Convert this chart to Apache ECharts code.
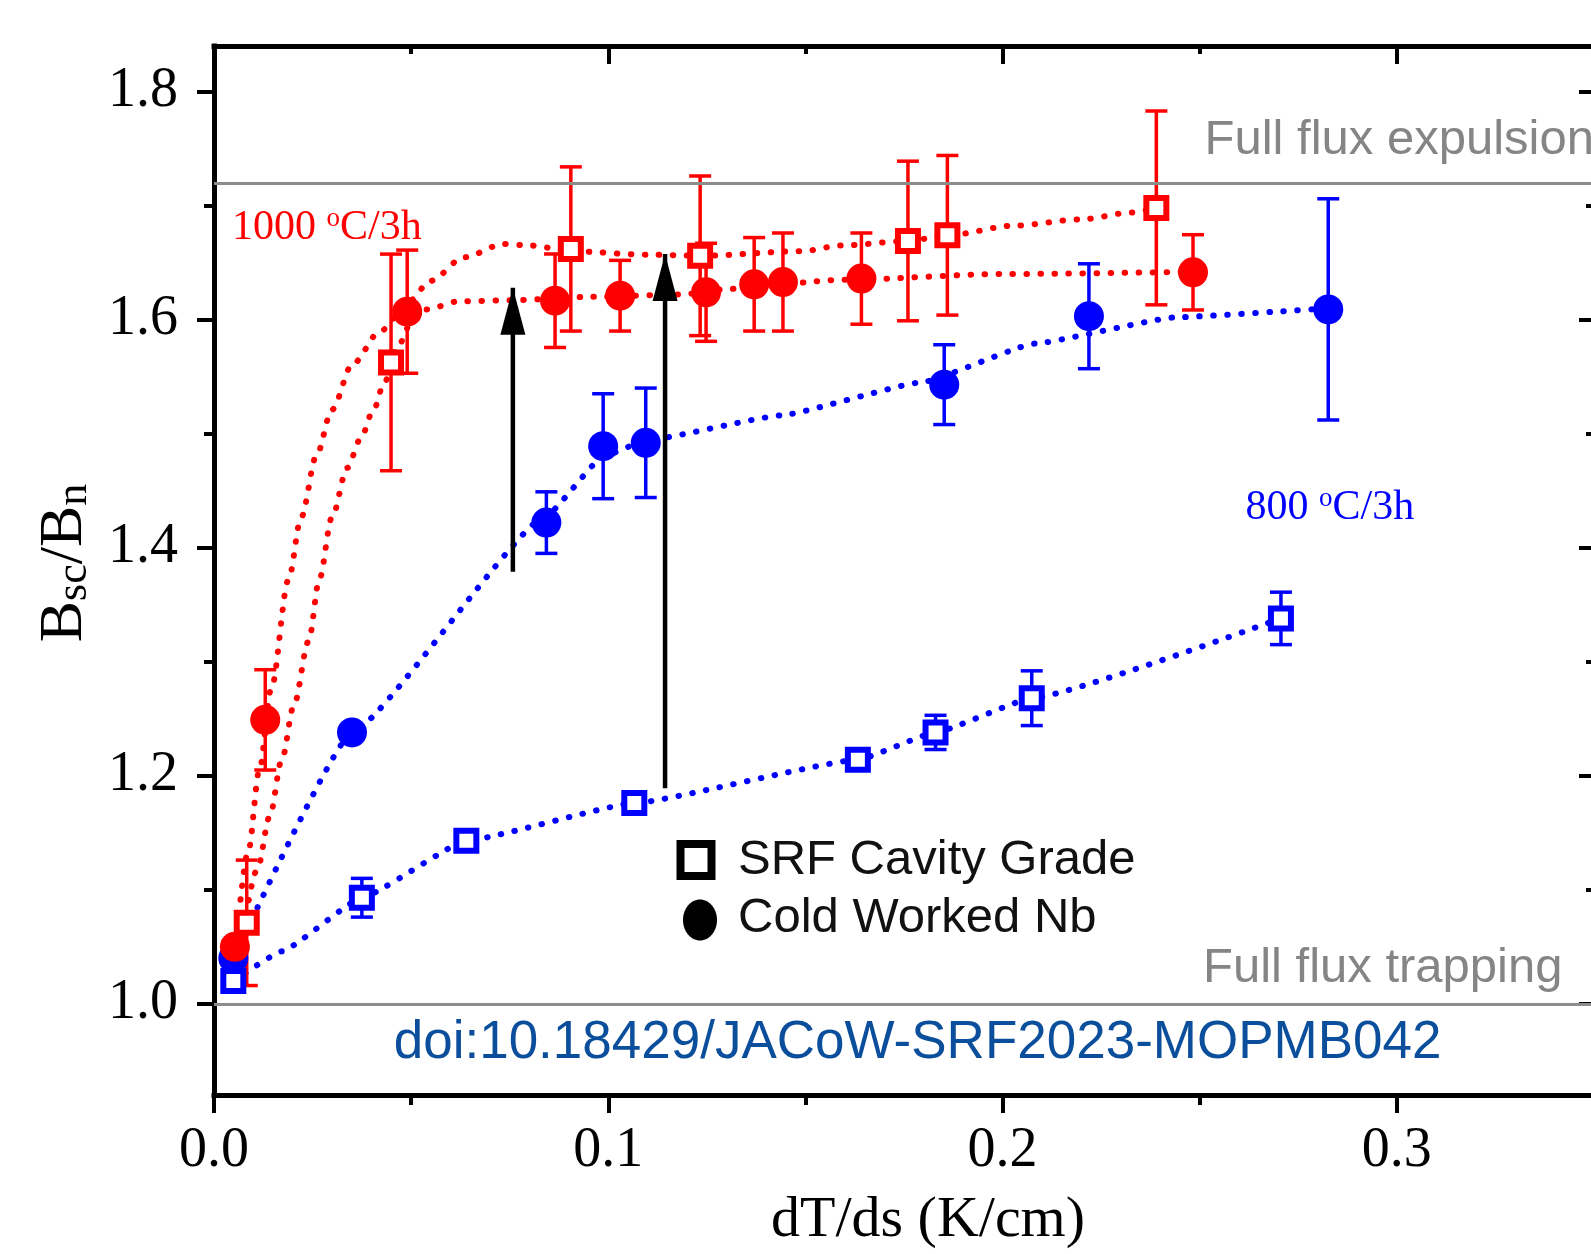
<!DOCTYPE html>
<html><head><meta charset="utf-8">
<script src="https://cdn.jsdelivr.net/npm/echarts@6/dist/echarts.min.js"></script>
<style>html,body{margin:0;padding:0;background:#fff;}#c{width:1591px;height:1254px;}</style>
</head><body><div id="c"></div>
<script>
// ---------- tick labels ----------
const xMajorTicks = [0, 0.1, 0.2, 0.3];
const xMinorTicks = [0.05, 0.15, 0.25];
const yMajorTicks = [1.0, 1.2, 1.4, 1.6, 1.8];
const yMinorTicks = [1.1, 1.3, 1.5, 1.7];
const xRange = [0, 0.35];
const yRange = [0.92, 1.84];

// ---------- reference levels ----------
const fullExpulsion = 1.72;
const fullTrapping = 1.0;

// ---------- 1000 °C/3h, SRF cavity grade (red squares) ----------
const srf1000X   = [0.0083, 0.0449, 0.0905, 0.1233, 0.176, 0.186, 0.239];
const srf1000Y   = [1.071, 1.5625, 1.662, 1.656, 1.669, 1.674, 1.698];
const srf1000Err = [0.055, 0.095, 0.072, 0.070, 0.070, 0.070, 0.085];

// ---------- 1000 °C/3h, cold worked Nb (red circles) ----------
const cw1000X   = [0.0053, 0.013, 0.049, 0.0865, 0.103, 0.1248, 0.137, 0.1443, 0.1642, 0.2483];
const cw1000Y   = [1.05, 1.249, 1.607, 1.6166, 1.621, 1.624, 1.631, 1.633, 1.636, 1.6415];
const cw1000Err = [0, 0.044, 0.054, 0.041, 0.031, 0.043, 0.041, 0.043, 0.040, 0.033];

// ---------- 800 °C/3h, SRF cavity grade (blue squares) ----------
const srf800X   = [0.0049, 0.0375, 0.064, 0.1066, 0.1633, 0.183, 0.2074, 0.2706];
const srf800Y   = [1.02, 1.093, 1.143, 1.176, 1.214, 1.238, 1.268, 1.338];
const srf800Err = [0.008, 0.017, 0.006, 0.004, 0.006, 0.015, 0.024, 0.023];

// ---------- 800 °C/3h, cold worked Nb (blue circles) ----------
const cw800X   = [0.0049, 0.035, 0.0843, 0.0987, 0.1095, 0.1852, 0.2219, 0.2826];
const cw800Y   = [1.04, 1.238, 1.422, 1.489, 1.492, 1.543, 1.603, 1.609];
const cw800Err = [0, 0, 0.027, 0.046, 0.048, 0.035, 0.046, 0.097];

// ---------- dotted guide curves ----------
const fitSrf1000 = [[0.005,1.03],[0.0087,1.134],[0.0115,1.205],[0.0145,1.276],[0.0189,1.372],[0.0221,1.4265],[0.026,1.481],[0.0299,1.521],[0.0351,1.561],[0.0422,1.59],[0.0494,1.616],[0.0549,1.634],[0.0634,1.6547],[0.0735,1.6664],[0.0803,1.665],[0.0905,1.66],[0.11,1.657],[0.1233,1.656],[0.149,1.66],[0.159,1.665],[0.176,1.669],[0.186,1.674],[0.2031,1.6825],[0.22,1.688],[0.2328,1.694],[0.239,1.698]];
const fitCw1000 = [[0.006,1.03],[0.011,1.118],[0.0141,1.164],[0.0172,1.214],[0.0202,1.261],[0.024,1.318],[0.0267,1.372],[0.0299,1.4265],[0.0338,1.47],[0.0371,1.495],[0.0405,1.521],[0.043,1.543],[0.0464,1.575],[0.05,1.597],[0.054,1.609],[0.062,1.616],[0.075,1.617],[0.096,1.62],[0.118,1.622],[0.131,1.627],[0.16,1.635],[0.2,1.64],[0.248,1.642]];
const fitSrf800 = [[0.005,1.02],[0.0172,1.046],[0.0375,1.093],[0.064,1.143],[0.1066,1.176],[0.1633,1.214],[0.183,1.238],[0.2074,1.268],[0.2706,1.338]];
const fitCw800 = [[0.005,1.04],[0.035,1.238],[0.0843,1.428],[0.0987,1.48],[0.1095,1.494],[0.1438,1.516],[0.1794,1.545],[0.2082,1.579],[0.2438,1.602],[0.2826,1.61]];

// ---------- arrows ----------
const arrow1 = [[0.0758, 1.379], [0.0758, 1.628]];
const arrow2 = [[0.1144, 1.189], [0.1144, 1.6576]];

// ---------- texts ----------
const xTitle = 'dT/ds (K/cm)';
const legendSrf = 'SRF Cavity Grade';
const legendCw = 'Cold Worked Nb';
const label1000 = ['1000 ', 'o', 'C/3h'];
const label800 = ['800 ', 'o', 'C/3h'];
const labelExp = 'Full flux expulsion';
const labelTrap = 'Full flux trapping';
const doiText = 'doi:10.18429/JACoW-SRF2023-MOPMB042';

// ---------- styling ----------
const RED = '#ff0000', BLUE = '#0000ff', GRAY = '#8c8c8c';
const SERIF = '"Liberation Serif","Times New Roman",serif';
const SANS = '"Liberation Sans",Arial,sans-serif';

function zip3(xs, ys, es) { return xs.map((x, i) => [x, ys[i], es[i]]); }
function zip2(xs, ys) { return xs.map((x, i) => [x, ys[i]]); }

function errRender(color) {
  return function (params, api) {
    const x = api.value(0), y = api.value(1), e = api.value(2);
    if (!e) return null;
    const t = api.coord([x, y + e]), b = api.coord([x, y - e]);
    const h = 11;
    const style = { stroke: color, lineWidth: 3.5 };
    return { type: 'group', children: [
      { type: 'line', shape: { x1: t[0], y1: t[1], x2: b[0], y2: b[1] }, style },
      { type: 'line', shape: { x1: t[0] - h, y1: t[1], x2: t[0] + h, y2: t[1] }, style },
      { type: 'line', shape: { x1: b[0] - h, y1: b[1], x2: b[0] + h, y2: b[1] }, style }
    ]};
  };
}

const axisLineStyle = { color: '#000', width: 5, cap: 'square' };
const tickLine = { color: '#000', width: 4 };

function xAx(position, ticks, len, inside, showLine, showLabel) {
  return {
    type: 'value', position, min: xRange[0], max: xRange[1],
    axisLine: { show: showLine, onZero: false, lineStyle: axisLineStyle },
    axisTick: { show: true, inside, length: len, customValues: ticks, lineStyle: tickLine },
    axisLabel: { show: showLabel, customValues: ticks, fontFamily: SERIF, fontSize: 56, color: '#000', margin: 28,
                 formatter: v => v.toFixed(1) },
    splitLine: { show: false }, minorTick: { show: false }
  };
}
function yAx(position, ticks, len, inside, showLine, showLabel) {
  return {
    type: 'value', position, min: yRange[0], max: yRange[1],
    axisLine: { show: showLine, onZero: false, lineStyle: axisLineStyle },
    axisTick: { show: true, inside, length: len, customValues: ticks, lineStyle: tickLine },
    axisLabel: { show: showLabel, customValues: ticks, fontFamily: SERIF, fontSize: 56, color: '#000', margin: 36,
                 formatter: v => v.toFixed(1) },
    splitLine: { show: false }, minorTick: { show: false }
  };
}

function scatter(name, xs, ys, symbol, color) {
  const isRect = symbol === 'rect';
  return {
    name, type: 'scatter', data: zip2(xs, ys), symbol,
    symbolSize: isRect ? 20 : 30, z: 5,
    itemStyle: isRect ? { color: '#fff', borderColor: color, borderWidth: 6, opacity: 1 } : { color, opacity: 1 }
  };
}
function errSeries(xs, ys, es, color) {
  return { type: 'custom', renderItem: errRender(color), data: zip3(xs, ys, es),
           encode: { x: 0, y: 1 }, z: 4, silent: true };
}
function fitSeries(pts, color, smooth) {
  return { type: 'line', data: pts, smooth, smoothMonotone: 'x', symbol: 'none', z: 3,
           lineStyle: { color, width: 6, type: [0.5, 13.5], cap: 'round' } };
}
function arrowSeries(pts) {
  return { type: 'line', z: 6, symbol: 'triangle', symbolSize: [25, 47], symbolOffset: [0, '50%'],
           itemStyle: { color: '#000' }, lineStyle: { color: '#000', width: 4.5 },
           data: [{ value: pts[0], symbol: 'none' }, { value: pts[1] }] };
}
function tempLabel(parts, x, y, color) {
  return { type: 'text', x, y, z: 10, style: {
    text: '{n|' + parts[0] + '}{o|' + parts[1] + '}{n|' + parts[2] + '}', align: 'left', verticalAlign: 'middle', fill: color,
    rich: { n: { fontFamily: SERIF, fontSize: 42, lineHeight: 46, fill: color, verticalAlign: 'middle' },
            o: { fontFamily: SERIF, fontSize: 27, lineHeight: 27, fill: color, verticalAlign: 'top' } } } };
}

const chart = echarts.init(document.getElementById('c'));
chart.setOption({
  animation: false,
  backgroundColor: '#fff',
  grid: { left: 214, top: 46, right: -3, bottom: 159, containLabel: false, outerBoundsMode: 'none' },
  xAxis: [
    xAx('bottom', xMajorTicks, 18, false, true, true),
    xAx('bottom', xMinorTicks, 10, false, false, false),
    xAx('top', xMajorTicks, 18, true, true, false),
    xAx('top', xMinorTicks, 8, true, false, false)
  ],
  yAxis: [
    yAx('left', yMajorTicks, 17, false, true, true),
    yAx('left', yMinorTicks, 10, false, false, false),
    yAx('right', yMajorTicks, 15, true, true, false),
    yAx('right', yMinorTicks, 8, true, false, false)
  ],
  series: [
    { type: 'line', data: [], z: 2, markLine: { silent: true, symbol: 'none', label: { show: false },
        lineStyle: { color: GRAY, width: 3, type: 'solid' },
        data: [{ yAxis: fullExpulsion }, { yAxis: fullTrapping }] } },
    fitSeries(fitSrf1000, RED, 0.3),
    fitSeries(fitCw1000, RED, 0.3),
    fitSeries(fitSrf800, BLUE, 0.12),
    fitSeries(fitCw800, BLUE, 0.12),
    errSeries(srf800X, srf800Y, srf800Err, BLUE),
    errSeries(cw800X, cw800Y, cw800Err, BLUE),
    errSeries(srf1000X, srf1000Y, srf1000Err, RED),
    errSeries(cw1000X, cw1000Y, cw1000Err, RED),
    scatter('SRF 800', srf800X, srf800Y, 'rect', BLUE),
    scatter('CW 800', cw800X, cw800Y, 'circle', BLUE),
    scatter('SRF 1000', srf1000X, srf1000Y, 'rect', RED),
    scatter('CW 1000', cw1000X, cw1000Y, 'circle', RED),
    arrowSeries(arrow1),
    arrowSeries(arrow2)
  ],
  graphic: [
    { type: 'text', x: 928, y: 1221, z: 10, style: { text: xTitle, fontFamily: SERIF, fontSize: 58, fill: '#000', align: 'center', verticalAlign: 'middle' } },
    { type: 'text', x: 60, y: 563, rotation: Math.PI / 2, z: 10, style: {
        text: '{b|B}{s|sc}{b|/B}{s|n}', align: 'center', verticalAlign: 'middle', fill: '#000',
        rich: { b: { fontFamily: SERIF, fontSize: 62, lineHeight: 72, verticalAlign: 'bottom', fill: '#000' },
                s: { fontFamily: SERIF, fontSize: 44, lineHeight: 44, verticalAlign: 'bottom', fill: '#000' } } } },
    { type: 'rect', z: 10, shape: { x: 696 - 15.5, y: 860 - 16, width: 31, height: 32 }, style: { fill: '#fff', stroke: '#000', lineWidth: 8 } },
    { type: 'ellipse', z: 10, shape: { cx: 700, cy: 920, rx: 17, ry: 20.5 }, style: { fill: '#000' } },
    { type: 'text', x: 738, y: 860, z: 10, style: { text: legendSrf, fontFamily: SANS, fontSize: 49, fill: '#111', align: 'left', verticalAlign: 'middle' } },
    { type: 'text', x: 738, y: 918.5, z: 10, style: { text: legendCw, fontFamily: SANS, fontSize: 49, fill: '#111', align: 'left', verticalAlign: 'middle' } },
    { type: 'text', x: 1204.5, y: 140, z: 10, style: { text: labelExp, fontFamily: SANS, fontSize: 49, fill: '#858585', align: 'left', verticalAlign: 'middle' } },
    { type: 'text', x: 1203, y: 968, z: 10, style: { text: labelTrap, fontFamily: SANS, fontSize: 49, fill: '#858585', align: 'left', verticalAlign: 'middle' } },
    { type: 'text', x: 393.7, y: 1043.6, z: 10, style: { text: doiText, fontFamily: SANS, fontSize: 53, fill: '#0b4f9c', align: 'left', verticalAlign: 'middle' } },
    tempLabel(label1000, 232, 228, RED),
    tempLabel(label800, 1245.6, 508, BLUE)
  ]
});
</script></body></html>
